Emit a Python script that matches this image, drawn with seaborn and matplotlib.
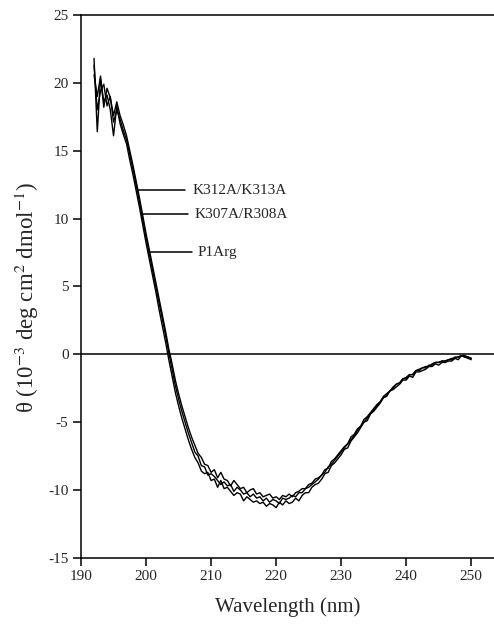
import numpy as np
import pandas as pd
import matplotlib
matplotlib.use("Agg")
import matplotlib.pyplot as plt
import seaborn as sns

# ---- data ----
wavelength = np.arange(192.0, 250.01, 0.5)  # nm sampling grid

p1arg = [
    21.8, 16.4, 20.3, 18.6, 19.1, 18.0, 16.1, 18.3, 17.0, 16.2,
    15.5, 14.3, 13.2, 12.0, 10.8, 9.5, 8.2, 7.0, 5.8, 4.6,
    3.3, 2.1, 0.9, -0.4, -1.6, -2.8, -3.8, -4.7, -5.5, -6.3,
    -7.0, -7.6, -8.0, -8.6, -8.8, -8.7, -9.3, -9.2, -9.8, -9.3,
    -9.9, -9.8, -10.1, -10.4, -10.2, -10.3, -10.8, -10.5, -10.7, -10.9,
    -10.8, -11.0, -10.9, -11.2, -11.0, -11.1, -11.3, -10.9, -11.1, -10.8,
    -11.0, -10.9, -10.6, -10.8, -10.4, -10.2, -10.2, -9.8, -9.6, -9.5,
    -9.2, -8.8, -8.7, -8.2, -8.0, -7.7, -7.4, -7.0, -6.9, -6.4,
    -6.1, -5.8, -5.4, -5.0, -4.9, -4.4, -4.2, -3.9, -3.6, -3.2,
    -3.1, -2.7, -2.6, -2.4, -2.2, -1.9, -1.9, -1.6, -1.7, -1.3,
    -1.3, -1.2, -1.1, -0.9, -0.9, -0.7, -0.8, -0.6, -0.6, -0.5,
    -0.5, -0.3, -0.4, -0.1, -0.2, -0.3, -0.4,
]

k307a_r308a = [
    20.6, 19.0, 20.5, 18.2, 19.6, 18.9, 17.6, 18.6, 17.6, 16.9,
    16.1, 15.0, 13.9, 12.7, 11.5, 10.2, 8.9, 7.7, 6.5, 5.3,
    4.1, 2.9, 1.7, 0.4, -0.7, -1.9, -2.9, -3.8, -4.6, -5.4,
    -6.1, -6.7, -7.3, -7.6, -8.1, -8.2, -8.7, -8.5, -9.1, -8.7,
    -9.2, -9.3, -9.7, -9.3, -9.6, -9.9, -9.8, -10.2, -10.0, -9.9,
    -10.3, -10.2, -10.5, -10.4, -10.3, -10.6, -10.5, -10.7, -10.4, -10.5,
    -10.3, -10.5, -10.2, -10.1, -9.9, -9.9, -9.6, -9.5, -9.2, -9.1,
    -8.9, -8.5, -8.4, -7.9, -7.7, -7.4, -7.1, -6.8, -6.6, -6.1,
    -5.9, -5.5, -5.3, -4.8, -4.6, -4.3, -4.0, -3.7, -3.5, -3.1,
    -2.9, -2.7, -2.4, -2.2, -2.1, -1.8, -1.7, -1.5, -1.5, -1.2,
    -1.1, -1.0, -0.9, -0.9, -0.7, -0.6, -0.6, -0.5, -0.5, -0.4,
    -0.3, -0.3, -0.2, -0.1, -0.1, -0.2, -0.3,
]

k312a_k313a = [
    21.3, 18.0, 19.4, 19.9, 18.3, 19.0, 17.1, 18.0, 17.3, 16.5,
    15.8, 14.7, 13.6, 12.4, 11.2, 9.9, 8.6, 7.4, 6.2, 5.0,
    3.8, 2.6, 1.4, 0.1, -1.1, -2.3, -3.3, -4.2, -5.0, -5.8,
    -6.5, -7.2, -7.5, -8.2, -8.3, -8.9, -8.8, -9.0, -9.3, -9.6,
    -9.4, -9.7, -9.6, -10.1, -9.8, -10.0, -10.3, -10.2, -10.5, -10.3,
    -10.6, -10.5, -10.8, -10.6, -10.9, -10.7, -10.8, -11.0, -10.6, -10.7,
    -10.6, -10.4, -10.5, -10.2, -10.2, -9.9, -9.8, -9.6, -9.4, -9.2,
    -8.9, -8.7, -8.3, -8.1, -7.8, -7.5, -7.2, -6.9, -6.6, -6.3,
    -6.0, -5.6, -5.3, -5.0, -4.7, -4.4, -4.1, -3.8, -3.5, -3.2,
    -3.0, -2.7, -2.5, -2.2, -2.1, -1.8, -1.8, -1.5, -1.5, -1.2,
    -1.2, -1.0, -1.0, -0.8, -0.8, -0.6, -0.6, -0.5, -0.5, -0.4,
    -0.4, -0.2, -0.2, -0.1, -0.2, -0.2, -0.3,
]

series_names = ["K312A/K313A", "K307A/R308A", "P1Arg"]
x_ticks = [190, 200, 210, 220, 230, 240, 250]
y_ticks = [-15, -10, -5, 0, 5, 10, 15, 20, 25]

df = pd.concat([
    pd.DataFrame({"Wavelength": wavelength, "theta": vals, "variant": name})
    for name, vals in zip(series_names, [k312a_k313a, k307a_r308a, p1arg])
])

# ---- style ----
sns.set_style("ticks")
plt.rcParams["font.family"] = ["Liberation Serif", "DejaVu Serif"]
plt.rcParams["mathtext.fontset"] = "stix"
plt.rcParams["axes.unicode_minus"] = False

fig = plt.figure(figsize=(4.94, 6.24), dpi=100)
ax = fig.add_axes([0.164, 0.106, 0.836, 0.870])

sns.lineplot(data=df, x="Wavelength", y="theta", hue="variant",
             palette=["black", "black", "black"], estimator=None,
             sort=False, legend=False, linewidth=1.0, ax=ax)

ax.axhline(0, color="black", linewidth=1.1, zorder=1)

# leader lines + labels
labels = [("K312A/K313A", 12.1, 198.8, 206.0, 207.2),
          ("K307A/R308A", 10.3, 199.5, 206.5, 207.5),
          ("P1Arg", 7.5, 200.3, 207.1, 207.9)]
for txt, yv, x0, x1, xt in labels:
    ax.plot([x0, x1], [yv, yv], color="black", linewidth=1.1)
    ax.text(xt, yv, txt, fontsize=11, va="center", ha="left")

ax.set_xlim(190, 253.5)
ax.set_ylim(-15, 25)
ax.set_xticks(x_ticks)
ax.set_yticks(y_ticks)
ax.tick_params(direction="out", length=6, width=1.1, labelsize=11, pad=3,
               color="black")
for side in ["left", "bottom", "top"]:
    ax.spines[side].set_linewidth(1.1)
    ax.spines[side].set_color("black")
ax.spines["right"].set_visible(False)

ax.set_xlabel("Wavelength (nm)", fontsize=15, labelpad=10)
ax.set_ylabel(r"θ (10$^{\mathrm{-3}}$ deg cm$^{\mathrm{2}}$ dmol$^{\mathrm{-1}}$)",
              fontsize=16.5)
ax.yaxis.set_label_coords(-0.098, 0.48)

fig.savefig("out.png", dpi=100)
